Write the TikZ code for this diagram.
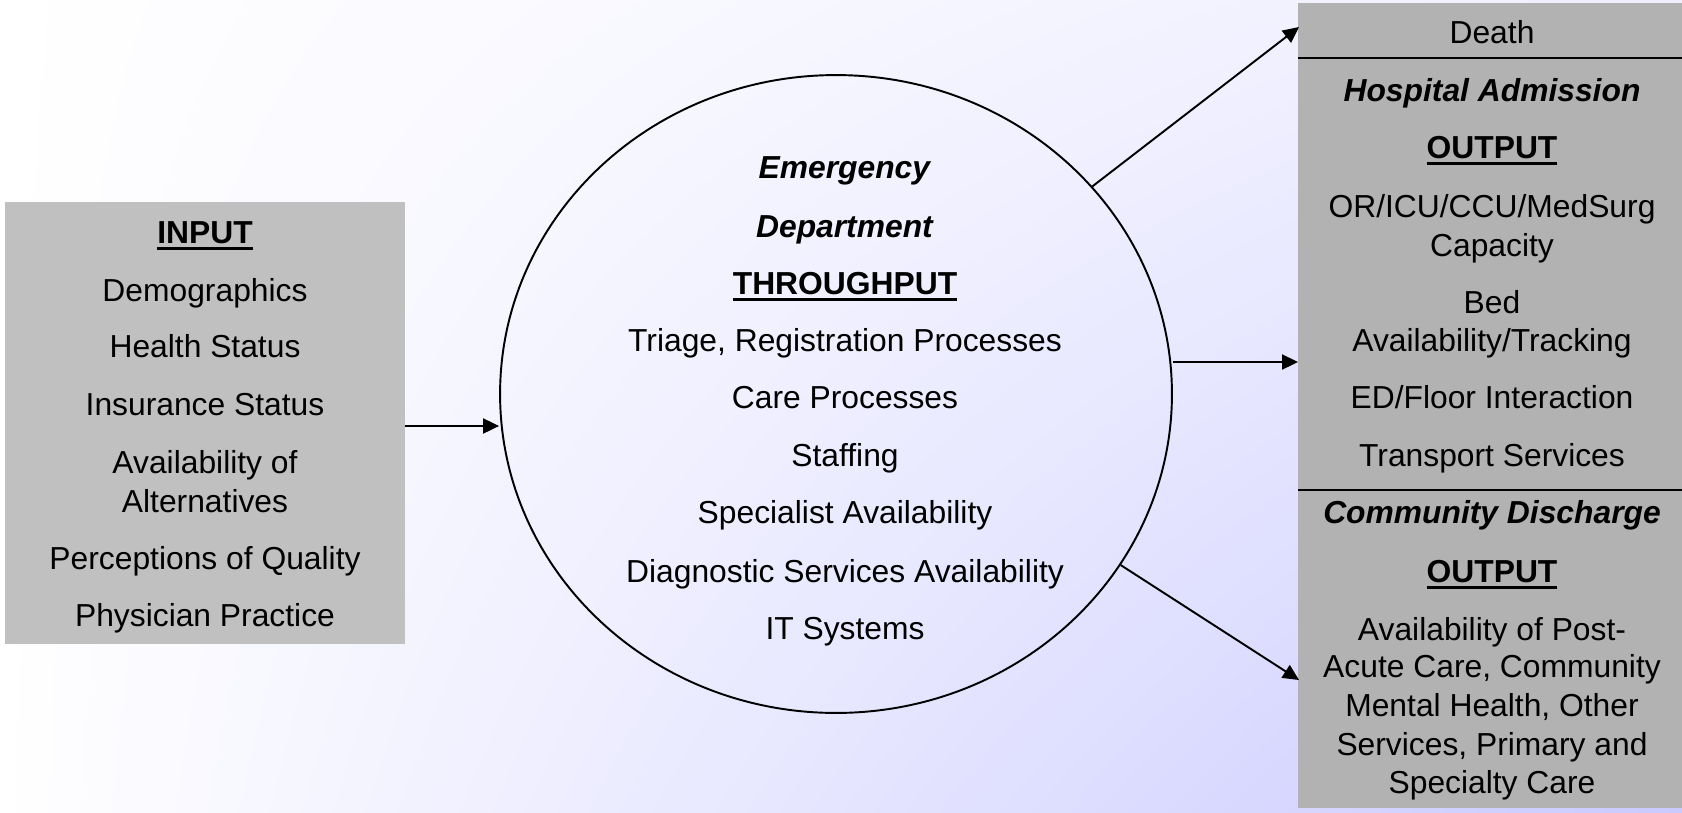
\documentclass[tikz,border=0pt]{standalone}
\usepackage{fontspec}
\setmainfont{Liberation Sans}
\usetikzlibrary{arrows.meta,shapes.geometric,shadings}

\definecolor{bgright}{HTML}{EEEEFF}
\definecolor{bgcorner}{HTML}{CACAFF}
\definecolor{ingray}{HTML}{C0C0C0}
\definecolor{outgray}{HTML}{B2B2B2}

\newcommand{\headit}[1]{\textbf{\textit{#1}}}
\newcommand{\headul}[1]{\setbox0\hbox{\bfseries #1}\rlap{\rule[-0.13cm]{\wd0}{0.06cm}}\box0}

\tikzset{
  txt/.style={font=\fontsize{18.1}{21}\selectfont,anchor=base,inner sep=0pt},
  panel/.style={inner sep=0pt,outer sep=0pt},
  flow/.style={line width=1.1pt,-{Triangle[length=0.32cm,width=0.3cm]}}
}

\begin{document}
\begin{tikzpicture}[x=0.02cm,y=-0.02cm]
  \useasboundingbox (0,0) rectangle (1682,812);
  \shade[upper left=white,lower left=white,upper right=bgright,lower right=bgcorner]
    (0,0) rectangle (1682,812);

  % boxes
  \node[panel,fill=ingray,minimum width=8cm,minimum height=8.84cm] (inbox) at (205,423) {};
  \node[panel,fill=outgray,minimum width=7.68cm,minimum height=16.1cm] (outbox) at (1490,405.5) {};
  \node[draw,ellipse,line width=1.1pt,inner sep=0pt,minimum width=13.44cm,minimum height=12.76cm] (ed) at (836,394) {};

  \draw[line width=1.1pt] (outbox.west |- 0,58) -- (outbox.east |- 0,58);
  \draw[line width=1.1pt] (outbox.west |- 0,490) -- (outbox.east |- 0,490);

  % input
  \foreach \y/\t in {243/\headul{INPUT},301/Demographics,357/Health Status,415/Insurance Status,
      473/Availability of,512/Alternatives,569/Perceptions of Quality,626/Physician Practice}
    \node[txt] (in\y) at (205,\y) {\t};

  % throughput
  \foreach \y/\t in {178/\headit{Emergency},237/\headit{Department},294/\headul{THROUGHPUT},
      {351/Triage, Registration Processes},408/Care Processes,466/Staffing,
      523/Specialist Availability,582/Diagnostic Services Availability,639/IT Systems}
    \node[txt] (mid\y) at (845,\y) {\t};

  % output
  \foreach \y/\t in {43/Death,101/\headit{Hospital Admission},158/\headul{OUTPUT},
      217/{OR/ICU/CCU/MedSurg},256/Capacity,313/Bed,351/{Availability/Tracking},
      408/{ED/Floor Interaction},466/Transport Services,523/\headit{Community Discharge},
      582/\headul{OUTPUT},{640/Availability of Post-},{677/Acute Care, Community},
      {716/Mental Health, Other},{755/Services, Primary and},793/Specialty Care}
    \node[txt] (out\y) at (1492,\y) {\t};

  % arrows
  \coordinate (deathin) at (1299,27);
  \coordinate (commin) at (1299,680);
  \draw[flow] (inbox.east |- 0,426) -- (ed.west |- 0,426);
  \draw[flow] (ed.east |- 0,362) -- (outbox.west |- 0,362);
  \draw[flow] (ed.39.2) -- (deathin);
  \draw[flow] (ed.-31.3) -- (commin);
\end{tikzpicture}
\end{document}
